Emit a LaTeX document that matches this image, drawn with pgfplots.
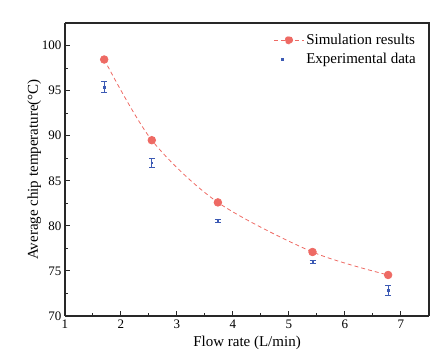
\documentclass[border=0pt]{standalone}
\usepackage{pgfplots}
\pgfplotsset{compat=1.18}
\usepackage{fontspec}
\setmainfont{Liberation Serif}
\definecolor{simred}{RGB}{238,106,100}
\definecolor{expblue}{RGB}{60,90,180}
\definecolor{axgray}{RGB}{40,40,40}
\begin{document}
\begin{tikzpicture}[x=1pt,y=1pt]
\useasboundingbox (-65,-40) rectangle (383,316);
\begin{axis}[
  at={(0,0)}, anchor=origin,
  scale only axis, width=364pt, height=293pt,
  xmin=1, xmax=7.5, ymin=70, ymax=102.5,
  xtick={1,2,3,4,5,6,7}, ytick={70,75,80,85,90,95,100},
  xticklabels={1,2,3,4,5,6,7},
  yticklabels={70,75,80,85,90,95,100},
  minor x tick num=1, minor y tick num=1,
  axis x line*=bottom, axis y line*=left,
  tick align=inside,
  major tick length=5pt, minor tick length=3pt,
  every tick/.style={axgray, line width=1pt},
  axis line style={axgray, line width=1.3pt, -},
  tick label style={font=\fontsize{13}{15}\selectfont},
  label style={font=\fontsize{15}{17}\selectfont},
  xlabel={Flow rate (L/min)},
  ylabel={Average chip temperature(\textdegree C)},
  xlabel style={yshift=-1pt},
  ylabel style={yshift=-6pt},
  legend style={draw=none, fill=none, at={(1,1)}, anchor=north east,
    xshift=-8pt, yshift=-7pt, font=\fontsize{15}{17}\selectfont,
    row sep=3pt},
  legend cell align=left,
  clip=false,
]
\addplot[simred, dashed, dash pattern=on 4pt off 3pt, line width=0.8pt, smooth,
  mark=*, mark size=3.8pt, mark options={solid, fill=simred, draw=simred},
  legend image code/.code={
    \draw[simred, line width=0.8pt, dash pattern=on 4pt off 3pt] (0pt,0pt) -- (30pt,0pt);
    \fill[simred] (15pt,0pt) circle (3.8pt);}]
  coordinates {(1.70,98.45) (2.55,89.5) (3.73,82.6) (5.42,77.1) (6.77,74.55)};
\addlegendentry{Simulation results}
\addplot[expblue, only marks, mark=square*, mark size=0.8pt,
  error bars/.cd, y dir=both, y explicit,
  error bar style={expblue, line width=0.8pt},
  error mark options={expblue, rotate=90, mark size=3pt, line width=0.8pt}]
  coordinates {
  (1.70,95.4) +- (0,0.6)
  (2.55,87.0) +- (0,0.5)
  (3.73,80.55) +- (0,0.2)
  (5.42,76.0) +- (0,0.12)
  (6.77,72.85) +- (0,0.55)
  };
\addlegendentry{Experimental data}
\end{axis}
\draw[axgray, line width=1.3pt] (0,293) -- (364,293) -- (364,0);
\end{tikzpicture}
\end{document}
